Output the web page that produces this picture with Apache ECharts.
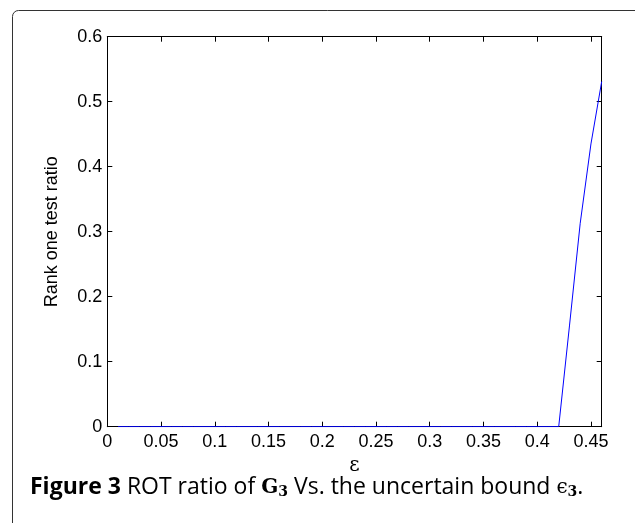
<!DOCTYPE html>
<html>
<head>
<meta charset="utf-8">
<script src="https://cdn.jsdelivr.net/npm/echarts@6/dist/echarts.min.js"></script>
<style>
html,body{margin:0;padding:0;background:#fff;}
#c{width:635px;height:523px;}
</style>
</head>
<body>
<div id="c"></div>
<script>
// Data
const epsValues = [0.01,0.02,0.03,0.04,0.05,0.06,0.07,0.08,0.09,0.10,0.11,0.12,0.13,0.14,0.15,0.16,0.17,0.18,0.19,0.20,0.21,0.22,0.23,0.24,0.25,0.26,0.27,0.28,0.29,0.30,0.31,0.32,0.33,0.34,0.35,0.36,0.37,0.38,0.39,0.40,0.41,0.42,0.43,0.44,0.45,0.46];
const rankOneRatio = [0,0,0,0,0,0,0,0,0,0,0,0,0,0,0,0,0,0,0,0,0,0,0,0,0,0,0,0,0,0,0,0,0,0,0,0,0,0,0,0,0,0,0.155,0.313,0.435,0.531];
const xTicks = [0,0.05,0.1,0.15,0.2,0.25,0.3,0.35,0.4,0.45];
const yTicks = [0,0.1,0.2,0.3,0.4,0.5,0.6];
const xName = 'ε';
const yName = 'Rank one test ratio';

const chart = echarts.init(document.getElementById('c'), null, {renderer:'canvas'});
const font = 'Liberation Sans';
const axisCommon = {
  axisLine:{show:true,onZero:false,lineStyle:{color:'#000',width:1}},
  axisTick:{show:true,inside:true,length:5,lineStyle:{color:'#000',width:1}},
  splitLine:{show:false}
};
const pts = epsValues.map((x,i)=>[x, rankOneRatio[i]]);
chart.setOption({
  animation:false,
  backgroundColor:'#fff',
  grid:{left:107.3,right:33.3,top:36.7,bottom:96.3,containLabel:false},
  xAxis:[
    Object.assign({type:'value',position:'bottom',min:0,max:0.46,interval:0.05,
      name:xName,nameLocation:'middle',nameGap:27,
      nameTextStyle:{fontFamily:'DejaVu Serif',fontSize:20,color:'#000'},
      axisLabel:{color:'#000',fontFamily:font,fontSize:18,margin:6,showMaxLabel:false,
        formatter:v=>xTicks.indexOf(Math.round(v*100)/100)>=0?String(Math.round(v*100)/100):''}},axisCommon),
    Object.assign({type:'value',position:'top',min:0,max:0.46,interval:0.05,
      axisLabel:{show:false}},axisCommon)
  ],
  yAxis:[
    Object.assign({type:'value',position:'left',min:0,max:0.6,interval:0.1,
      name:yName,nameLocation:'middle',nameGap:46,nameRotate:90,
      nameTextStyle:{fontFamily:font,fontSize:18,color:'#000'},
      axisLabel:{color:'#000',fontFamily:font,fontSize:18,margin:5,
        formatter:v=>yTicks.indexOf(Math.round(v*10)/10)>=0?String(Math.round(v*10)/10):''}},axisCommon),
    Object.assign({type:'value',position:'right',min:0,max:0.6,interval:0.1,
      axisLabel:{show:false}},axisCommon)
  ],
  series:[{type:'line',data:pts,showSymbol:false,symbol:'none',
    lineStyle:{color:'#0000ff',width:1},itemStyle:{color:'#0000ff'},z:1}],
  graphic:[
    {type:'rect',shape:{x:12.5,y:10.5,width:640,height:600,r:6},
      style:{fill:'none',stroke:'#333',lineWidth:1},silent:true,z:-1},
    {type:'text',left:30,top:476,
      style:{
        text:'{b|Figure 3}{n| ROT ratio of }{m|G}{s|3}{n| Vs. the uncertain bound }{e|ϵ}{s|3}{n|.}',
        rich:{
          b:{fontFamily:'Open Sans',fontWeight:'bold',fontSize:23,fill:'#000'},
          n:{fontFamily:'Open Sans',fontWeight:'normal',fontSize:23,fill:'#000'},
          m:{fontFamily:'DejaVu Serif',fontWeight:'bold',fontSize:20,fill:'#000'},
          e:{fontFamily:'DejaVu Serif',fontSize:20,fill:'#000'},
          s:{fontFamily:'DejaVu Serif',fontWeight:'bold',fontSize:14,fill:'#000',padding:[9,0,0,0]}
        }
      }}
  ]
});
</script>
</body>
</html>
